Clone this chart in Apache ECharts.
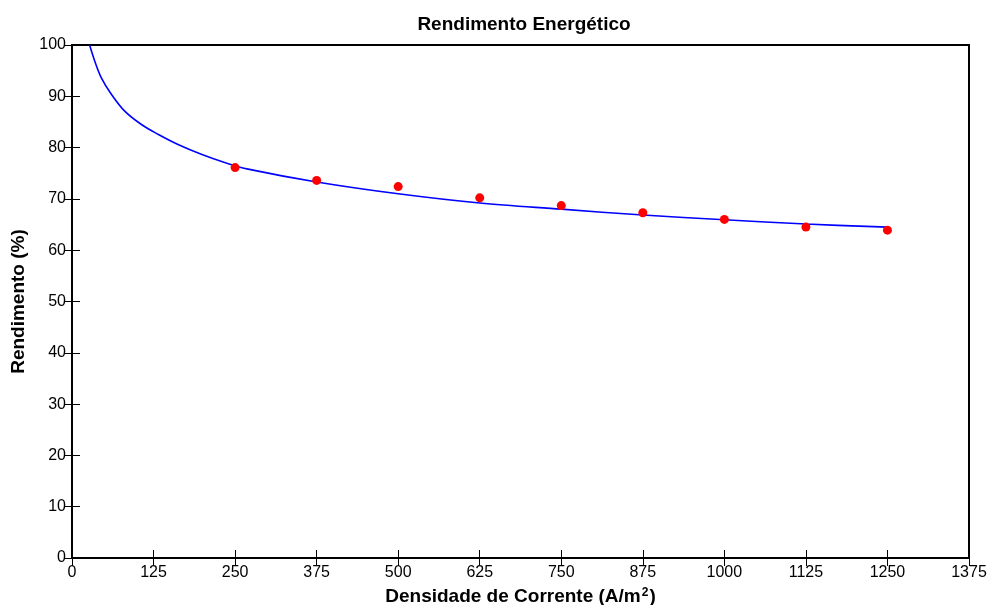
<!DOCTYPE html>
<html>
<head>
<meta charset="utf-8">
<script src="https://cdn.jsdelivr.net/npm/echarts@6/dist/echarts.min.js"></script>
<style>
  html, body { margin: 0; padding: 0; background: #fff; }
  #chart { width: 990px; height: 605px; }
</style>
</head>
<body>
<div id="chart"></div>
<script>
// Measured efficiency at each current density
const densidade = [250, 375, 500, 625, 750, 875, 1000, 1125, 1250];
const rendimento = [76.1, 73.6, 72.4, 70.2, 68.7, 67.3, 66.0, 64.5, 63.9];

// Fitted trend curve
const ajusteX = [27, 34.8, 45, 60.3, 80.8, 106.4, 131.8, 162.5, 198.2, 234, 270, 375, 500, 625, 750, 875, 1000, 1125, 1250];
const ajusteY = [100, 96.9, 93.6, 90.4, 87.1, 84.5, 82.6, 80.6, 78.7, 77.1, 75.8, 73.3, 71.0, 69.2, 68.0, 66.85, 65.95, 65.1, 64.5];

// Axis ranges
const xMin = 0, xMax = 1375, xStep = 125;
const yMin = 0, yMax = 100, yStep = 10;

const FONT = '"Liberation Sans", Arial, sans-serif';

const chart = echarts.init(document.getElementById('chart'), null, { renderer: 'canvas' });

const tickStyle = { show: true, inside: true, length: 8, lineStyle: { color: '#000', width: 1 } };
const plainNumber = v => String(v);

chart.setOption({
  backgroundColor: '#ffffff',
  animation: false,
  title: {
    text: 'Rendimento Energético',
    left: 519, top: 10, textAlign: 'center',
    textStyle: { fontFamily: FONT, fontWeight: 'bold', fontSize: 19, color: '#000' }
  },
  grid: {
    left: 72, right: 21, top: 45, bottom: 47,
    containLabel: false, outerBoundsMode: 'none',
    show: true, borderColor: '#000', borderWidth: 2, backgroundColor: '#fff'
  },
  xAxis: [
    {
      type: 'value', position: 'bottom', min: xMin, max: xMax, interval: xStep,
      axisLine: { show: false }, splitLine: { show: false },
      axisTick: tickStyle,
      axisLabel: { margin: 7, fontFamily: FONT, fontSize: 16, color: '#000', formatter: plainNumber },
      name: '{a|Densidade de Corrente (A/m}{s|2}{a|)}',
      nameLocation: 'middle', nameGap: 29,
      nameTextStyle: {
        rich: {
          a: { fontFamily: FONT, fontWeight: 'bold', fontSize: 19, lineHeight: 20, color: '#000' },
          s: { fontFamily: FONT, fontWeight: 'bold', fontSize: 12, lineHeight: 12, color: '#000', padding: [0, 1, 8, 1] }
        }
      }
    },
    {
      type: 'value', position: 'top', min: xMin, max: xMax, interval: xStep,
      axisLine: { show: false }, splitLine: { show: false },
      axisTick: tickStyle, axisLabel: { show: false }
    }
  ],
  yAxis: [
    {
      type: 'value', position: 'left', min: yMin, max: yMax, interval: yStep,
      axisLine: { show: false }, splitLine: { show: false },
      axisTick: tickStyle,
      axisLabel: { margin: 6, fontFamily: FONT, fontSize: 16, color: '#000', formatter: plainNumber },
      name: 'Rendimento (%)', nameLocation: 'middle', nameGap: 40, nameRotate: 90,
      nameTextStyle: { fontFamily: FONT, fontWeight: 'bold', fontSize: 19, color: '#000' }
    },
    {
      type: 'value', position: 'right', min: yMin, max: yMax, interval: yStep,
      axisLine: { show: false }, splitLine: { show: false },
      axisTick: tickStyle, axisLabel: { show: false }
    }
  ],
  series: [
    {
      type: 'line',
      data: ajusteX.map((x, i) => [x, ajusteY[i]]),
      smooth: 0.35,
      showSymbol: false,
      lineStyle: { color: '#0000ff', width: 1.6 },
      clip: true,
      z: 2
    },
    {
      type: 'scatter',
      data: densidade.map((x, i) => [x, rendimento[i]]),
      symbol: 'circle', symbolSize: 9,
      itemStyle: { color: '#ff0000', opacity: 1 },
      z: 3
    }
  ]
});
</script>
</body>
</html>
